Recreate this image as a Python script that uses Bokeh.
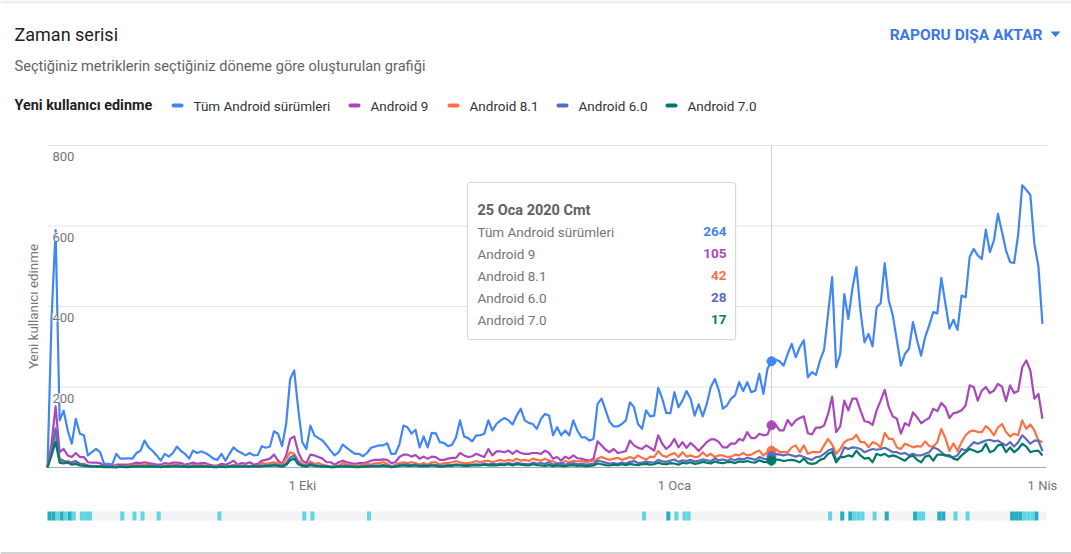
import math
import pandas as pd
from bokeh.plotting import figure
from bokeh.models import Range1d, Label, BoxAnnotation
from bokeh.embed import file_html
from bokeh.resources import INLINE

# ---------------- data ----------------
start_date = "2019-07-30"
tick_dates = ["2019-10-01", "2020-01-01", "2020-04-01"]
tick_labels = ["1 Eki", "1 Oca", "1 Nis"]
y_ticks = [200, 400, 600, 800]
y_max = 800

series_names = ["Tüm Android sürümleri", "Android 9", "Android 8.1", "Android 6.0", "Android 7.0"]
series_colors = ["#4285f4", "#ab47bc", "#ff7043", "#5c6bc0", "#00796b"]

all_android = [
    0, 370, 590, 117, 141, 92, 59, 121, 84, 80,
    30, 38, 46, 38, 9, 9, 7, 34, 22, 22,
    23, 22, 36, 42, 67, 50, 41, 30, 17, 34,
    27, 36, 52, 41, 34, 22, 42, 36, 40, 36,
    30, 22, 19, 34, 17, 34, 50, 41, 36, 30,
    36, 30, 31, 53, 49, 52, 90, 84, 53, 108,
    220, 241, 145, 63, 46, 104, 80, 73, 67, 55,
    42, 30, 38, 57, 49, 41, 34, 34, 28, 36,
    49, 52, 55, 55, 60, 34, 34, 57, 104, 100,
    84, 94, 50, 77, 50, 86, 85, 63, 61, 53,
    56, 75, 117, 77, 73, 65, 80, 80, 84, 117,
    92, 108, 117, 123, 117, 107, 129, 146, 117, 111,
    108, 96,
    121, 133, 129, 80, 100, 80, 92, 80, 117, 92,
    75, 75, 67, 71, 158, 171, 142, 113, 102, 102,
    108, 117, 162, 150, 108, 96, 142, 127, 129, 198,
    171, 135, 135, 187, 150, 166, 190, 171, 129, 157,
    127, 158, 200, 220, 191, 146, 154, 171, 179, 212,
    190, 212, 187, 191, 233, 183, 245, 264, 268, 264,
    253, 282,
    307, 274, 299, 316, 224, 237, 230, 266, 292, 382,
    473, 249, 282, 431, 369, 444, 498, 390, 311, 332,
    301, 398, 408, 508, 415, 378, 316, 253, 282, 295,
    361, 316, 278, 324, 353, 386, 383, 471, 407, 345,
    367, 342, 427, 423, 523, 543, 527, 518, 591, 535,
    564, 630, 585, 539, 510, 508, 580, 701, 690, 677,
    556, 499, 357,
]

android_9 = [
    0, 60, 152, 38, 46, 30, 26, 36, 26, 26,
    13, 12, 12, 11, 5, 5, 3, 7, 7, 7,
    7, 9, 12, 11, 13, 11, 9, 7, 7, 11,
    9, 12, 12, 11, 7, 9, 12, 9, 11, 11,
    7, 5, 5, 9, 7, 11, 17, 7, 11, 9,
    13, 7, 9, 17, 19, 22, 32, 17, 9, 30,
    71, 77, 38, 17, 11, 32, 30, 26, 22, 13,
    13, 7, 13, 17, 13, 11, 9, 11, 11, 13,
    17, 19, 19, 20, 19, 11, 13, 26, 32, 32,
    27, 31, 22, 27, 22, 27, 26, 19, 19, 22,
    24, 24, 36, 30, 26, 28, 34, 30, 26, 46,
    30, 40, 40, 38, 42, 34, 42, 36, 34, 34,
    36, 36,
    34, 42, 36, 22, 26, 17, 27, 22, 30, 23,
    22, 19, 17, 22, 65, 55, 44, 38, 46, 36,
    38, 41, 67, 55, 49, 46, 55, 49, 42, 80,
    59, 46, 55, 71, 50, 63, 49, 61, 52, 41,
    52, 63, 70, 70, 63, 50, 50, 60, 59, 71,
    67, 88, 73, 73, 84, 80, 82, 105, 107, 92,
    92, 118,
    104, 117, 123, 127, 85, 82, 99, 99, 104, 133,
    176, 88, 102, 166, 142, 171, 171, 142, 115, 113,
    106, 142, 166, 193, 150, 127, 121, 84, 110, 104,
    137, 125, 110, 117, 123, 146, 140, 160, 150, 123,
    135, 137, 142, 154, 204, 200, 166, 191, 200, 185,
    191, 208, 201, 165, 204, 185, 190, 249, 266, 241,
    171, 183, 121,
]

android_8_1 = [
    0, 46, 84, 17, 13, 17, 11, 16, 9, 9,
    5, 3, 4, 3, 2, 2, 1, 4, 3, 3,
    4, 5, 6, 5, 9, 6, 5, 4, 3, 5,
    4, 6, 8, 5, 4, 3, 6, 5, 6, 5,
    4, 3, 2, 4, 3, 4, 6, 5, 4, 3,
    4, 3, 4, 11, 9, 11, 13, 11, 7, 22,
    38, 34, 17, 9, 5, 15, 9, 11, 7, 5,
    2, 3, 5, 11, 7, 7, 5, 5, 7, 9,
    7, 11, 11, 13, 9, 3, 7, 11, 13, 11,
    13, 11, 7, 11, 7, 13, 13, 7, 11, 11,
    13, 16, 13, 11, 11, 13, 16, 13, 16, 17,
    13, 16, 19, 16, 19, 16, 22, 17, 19, 16,
    22, 19,
    17, 22, 17, 15, 11, 9, 16, 13, 17, 15,
    16, 13, 15, 16, 22, 26, 22, 19, 22, 24,
    19, 22, 26, 22, 30, 24, 19, 27, 26, 41,
    30, 26, 32, 36, 26, 38, 27, 30, 26, 27,
    38, 28, 34, 26, 30, 30, 26, 27, 32, 30,
    36, 30, 32, 38, 42, 30, 38, 42, 46, 38,
    38, 38,
    50, 55, 38, 55, 34, 38, 38, 38, 55, 71,
    57, 34, 46, 63, 69, 71, 81, 63, 63, 50,
    63, 59, 50, 86, 71, 71, 50, 46, 59, 55,
    50, 53, 52, 65, 53, 52, 63, 96, 73, 41,
    60, 41, 63, 80, 89, 92, 88, 88, 103, 94,
    80, 100, 108, 88, 77, 84, 80, 117, 96, 107,
    92, 67, 63,
]

android_6_0 = [
    0, 40, 97, 22, 17, 11, 13, 16, 9, 7, 5,
    4, 3, 4, 3, 2, 2, 1, 3, 3, 2,
    3, 4, 4, 3, 5, 4, 3, 2, 3, 3,
    4, 5, 4, 3, 2, 4, 3, 4, 3, 3,
    2, 2, 3, 2, 3, 5, 3, 4, 3, 3,
    4, 3, 5, 5, 6, 8, 6, 4, 10,
    25, 30, 12, 6, 4, 10, 6, 5, 4, 3,
    2, 2, 3, 5, 4, 3, 3, 2, 3, 4,
    4, 5, 5, 6, 5, 2, 3, 6, 8, 7,
    6, 7, 5, 6, 5, 7, 6, 4, 5, 6,
    6, 8, 7, 6, 6, 7, 8, 7, 10, 8,
    9, 8, 10, 9, 11, 8, 12, 10, 9, 8,
    12, 10,
    11, 9, 13, 7, 9, 11, 7, 9, 11, 8,
    9, 7, 8, 9, 17, 15, 12, 10, 11, 9,
    12, 10, 14, 16, 11, 12, 14, 13, 12, 19,
    15, 14, 17, 20, 14, 18, 16, 19, 15, 17,
    20, 18, 16, 22, 18, 20, 17, 21, 18, 22,
    20, 24, 22, 19, 26, 22, 20, 28, 34, 32,
    30, 33,
    30, 27, 30, 26, 22, 19, 26, 27, 34, 42,
    46, 19, 26, 50, 46, 50, 49, 46, 38, 42,
    46, 44, 46, 49, 44, 38, 38, 34, 36, 30,
    34, 30, 30, 34, 38, 50, 46, 38, 30, 27,
    26, 30, 46, 42, 52, 63, 59, 63, 67, 69,
    65, 67, 60, 55, 63, 52, 63, 80, 70, 59,
    67, 67, 41,
]

android_7_0 = [
    0, 30, 64, 12, 10, 13, 7, 9, 5, 4, 3,
    2, 2, 2, 1, 1, 1, 0, 2, 1, 1,
    2, 2, 3, 2, 3, 2, 2, 1, 2, 2,
    3, 3, 2, 2, 1, 2, 2, 3, 2, 2,
    1, 1, 2, 1, 2, 3, 2, 2, 2, 2,
    3, 2, 3, 4, 4, 5, 4, 2, 6,
    18, 22, 8, 4, 2, 6, 4, 3, 2, 2,
    1, 1, 2, 3, 2, 2, 1, 1, 2, 2,
    3, 3, 3, 4, 3, 1, 2, 4, 5, 4,
    4, 5, 3, 4, 3, 5, 4, 2, 3, 4,
    4, 6, 5, 4, 4, 5, 6, 5, 7, 5,
    6, 5, 7, 6, 8, 5, 8, 7, 6, 5,
    8, 6,
    5, 4, 6, 3, 5, 4, 3, 5, 6, 4,
    5, 3, 4, 5, 10, 8, 6, 5, 7, 6,
    8, 6, 9, 7, 6, 8, 9, 7, 8, 12,
    9, 8, 11, 10, 7, 12, 10, 13, 9, 11,
    14, 12, 10, 15, 12, 11, 13, 14, 11, 15,
    14, 16, 13, 12, 18, 14, 13, 17, 20, 19,
    16, 18,
    19, 17, 13, 22, 11, 9, 11, 19, 22, 34,
    38, 13, 26, 26, 30, 27, 42, 30, 22, 24,
    13, 34, 30, 34, 27, 30, 27, 22, 17, 26,
    30, 19, 13, 27, 30, 17, 32, 32, 30, 30,
    22, 19, 30, 38, 46, 42, 38, 42, 59, 38,
    42, 55, 57, 38, 50, 38, 46, 59, 52, 38,
    41, 42, 30,
]

tooltip_date = "2020-01-25"
tooltip_title = "25 Oca 2020 Cmt"

# activity strip (days since start)
strip_dark_days = [0, 1, 3, 5, 153, 196, 198, 207, 214, 220, 221, 238, 239, 240, 244]
strip_light_days = [2, 4, 6, 8, 9, 10, 18, 21, 23, 27, 42, 63, 65, 79, 147, 155, 157, 158,
                    193, 199, 200, 201, 204, 215, 216, 224, 227, 241, 242, 243]

series = [all_android, android_9, android_8_1, android_6_0, android_7_0]

# ---------------- derived ----------------
t0 = pd.Timestamp(start_date)
n = len(all_android)
dates = pd.date_range(start_date, periods=n, freq="D")
days = [(d - t0).days for d in dates]
tick_days = [(pd.Timestamp(d) - t0).days for d in tick_dates]
tip = (pd.Timestamp(tooltip_date) - t0).days
x_lo, x_hi = 0, n  # visible day span of the chart area

# ---------------- layout (page pixels) ----------------
W, H = 1071, 554
FL, FR, FT, FB = 47, 1046, 145, 467        # chart area
ST, SB = 511, 520                           # activity strip
FONT = "Roboto"

# one canvas in page pixels; chart data mapped through extra ranges
dpp = (x_hi - x_lo) / (FR - FL)            # days per pixel
upp = y_max / (FB - FT)                     # users per pixel
spp = 1.0 / (SB - ST)

p = figure(width=W, height=H, x_range=Range1d(0, W), y_range=Range1d(H, 0),
           output_backend="svg", toolbar_location=None, title=None,
           min_border=0, min_border_left=0, min_border_right=0,
           min_border_top=0, min_border_bottom=0)
p.extra_x_ranges = {"days": Range1d(x_lo - FL * dpp, x_hi + (W - FR) * dpp)}
p.extra_y_ranges = {"users": Range1d(0 - (H - FB) * upp, y_max + FT * upp),
                    "strip": Range1d(0 - (H - SB) * spp, 1 + ST * spp)}
p.axis.visible = False
p.grid.visible = False
p.outline_line_color = None
p.background_fill_color = "white"
p.border_fill_color = "white"

D = dict(x_range_name="days", y_range_name="users")

# page frame lines
p.quad(left=[0], right=[W], top=[0], bottom=[3], fill_color="#eeeeee", line_color=None)
p.quad(left=[0], right=[W], top=[551.5], bottom=[554], fill_color="#d2d2d2", line_color=None)

# ---------------- header ----------------
def label(px, py, text, size, color, bold=False, align="left", angle=0.0, **kw):
    p.add_layout(Label(x=px, y=py, text=text, text_font=FONT, text_font_size=size,
                       text_color=color, text_font_style="bold" if bold else "normal",
                       text_align=align, text_baseline="middle", angle=angle, **kw))

label(14, 34, "Zaman serisi", "18px", "#212121")
label(14, 65, "Seçtiğiniz metriklerin seçtiğiniz döneme göre oluşturulan grafiği", "14.6px", "#5f6368")
label(1042, 34, "RAPORU DIŞA AKTAR", "15.5px", "#3b78e7", bold=True, align="right")
p.patch([1050, 1060, 1055], [31, 31, 36.5], fill_color="#3b78e7", line_color=None)

label(14, 105, "Yeni kullanıcı edinme", "14.4px", "#212121", bold=True)
legend_marker_x = [171, 348, 447, 556, 665]
p.segment(x0=[x + 2 for x in legend_marker_x], y0=[105] * 5,
          x1=[x + 10 for x in legend_marker_x], y1=[105] * 5,
          line_color=series_colors, line_width=4, line_cap="round")
for mx, name in zip(legend_marker_x, series_names):
    label(mx + 22, 105, name, "13.5px", "#333333")

# y axis title
label(32.5, 306, "Yeni kullanıcı edinme", "13.4px", "#757575", align="center", angle=math.pi / 2)

# ---------------- chart ----------------
# horizontal grid lines
p.segment(x0=[x_lo] * len(y_ticks), x1=[x_hi] * len(y_ticks), y0=y_ticks, y1=y_ticks,
          line_color="#e3e3e3", line_width=1, **D)
# crosshair at tooltip date
p.segment(x0=[tip], x1=[tip], y0=[0], y1=[y_max], line_color="#d0d0d0", line_width=1, **D)
# axis baseline
p.segment(x0=[x_lo], x1=[x_hi], y0=[0], y1=[0], line_color="#a8a8a8", line_width=1, **D)

for s, c in zip(series, series_colors):
    p.line(days, s, line_color=c, line_width=2.2, line_join="round", **D)

p.scatter([tip] * len(series), [s[tip] for s in series], size=9, color=series_colors, **D)

# y tick labels (inside chart, just under each grid line, with white halo box)
for v in y_ticks:
    p.add_layout(Label(x=x_lo, y=v, x_offset=5, y_offset=-11, text=str(v), text_font=FONT,
                       text_font_size="13px", text_color="#757575", text_baseline="middle",
                       background_fill_color="white", background_fill_alpha=0.85,
                       x_range_name="days", y_range_name="users"))

# x tick labels
for d, t in zip(tick_days, tick_labels):
    p.add_layout(Label(x=d, y=0, y_offset=-18, text=t, text_font=FONT, text_font_size="13px",
                       text_color="#757575", text_align="center", text_baseline="middle",
                       x_range_name="days", y_range_name="users"))

# ---------------- tooltip ----------------
p.add_layout(BoxAnnotation(left=468, right=736, top=183, bottom=340,
                           fill_color="#000000", fill_alpha=0.05, line_alpha=0.0,
                           border_radius=2))
p.add_layout(BoxAnnotation(left=467, right=735, top=182, bottom=339,
                           fill_color="white", fill_alpha=1.0,
                           line_color="#d6d6d6", line_width=1, line_alpha=1.0,
                           border_radius=2))
label(477, 210, tooltip_title, "14.5px", "#616161", bold=True)
for i, (name, s, c) in enumerate(zip(series_names, series, series_colors)):
    yy = 231 + i * 22
    label(477, yy, name, "13.5px", "#757575")
    label(726, yy, str(s[tip]), "13.5px", c, bold=True, align="right")

# ---------------- activity strip ----------------
S = dict(x_range_name="days", y_range_name="strip")
p.quad(left=[x_lo], right=[x_hi], bottom=[0], top=[1], fill_color="#f3f3f3", line_color=None, **S)
p.quad(left=strip_dark_days, right=[d + 1 for d in strip_dark_days], bottom=0, top=1,
       fill_color="#27adbe", line_color=None, **S)
p.quad(left=strip_light_days, right=[d + 1 for d in strip_light_days], bottom=0, top=1,
       fill_color="#63d4e1", line_color=None, **S)

open("out.html", "w").write(file_html(p, INLINE))
